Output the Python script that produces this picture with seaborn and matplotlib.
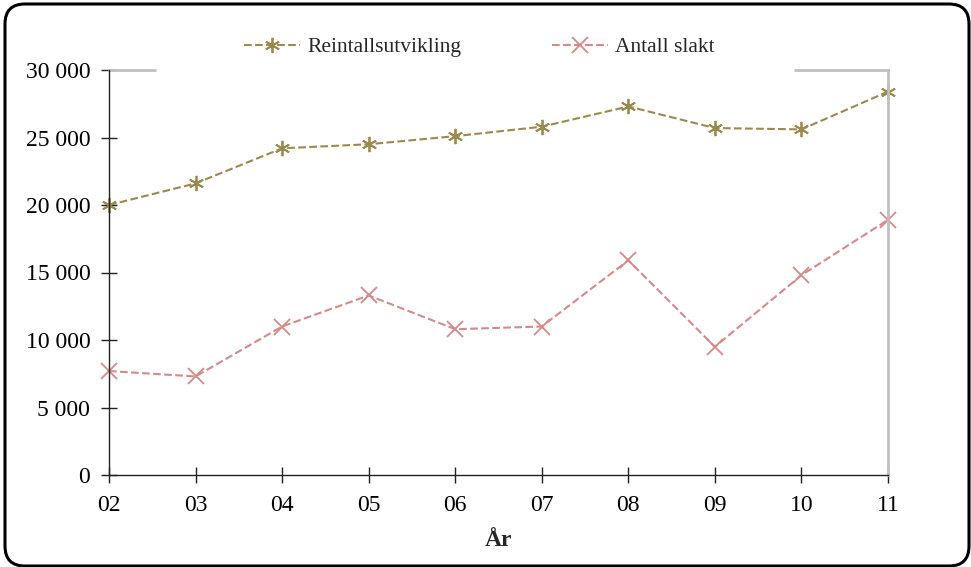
import seaborn as sns
import matplotlib.pyplot as plt
import matplotlib.ticker as mticker
from matplotlib.patches import FancyBboxPatch
import pandas as pd

years = ['02', '03', '04', '05', '06', '07', '08', '09', '10', '11']
reintall = [20000, 21600, 24200, 24500, 25100, 25800, 27300, 25700, 25600, 28400]
slakt = [7700, 7300, 11000, 13300, 10800, 11000, 15900, 9500, 14800, 18900]

olive = '#9a8a4e'
pink = '#d48a8a'

sns.set_style('white')
plt.rcParams['font.family'] = ['Liberation Serif', 'DejaVu Serif']

df = pd.DataFrame({'pos': range(len(years)), 'Reintallsutvikling': reintall, 'Antall slakt': slakt})

fig = plt.figure(figsize=(9.71, 5.67), dpi=100)
ax = fig.add_axes([109 / 971, 1 - 475 / 567, 779 / 971, 405 / 567])

sns.lineplot(data=df, x='pos', y='Reintallsutvikling', ax=ax, color=olive, linestyle='--',
             linewidth=1.5, marker=(6, 2, 0), markersize=11, markeredgewidth=1.3,
             markeredgecolor=olive, label='Reintallsutvikling', clip_on=False)
sns.lineplot(data=df, x='pos', y='Antall slakt', ax=ax, color=pink, linestyle='--',
             linewidth=1.5, marker='x', markersize=11, markeredgewidth=1.3,
             markeredgecolor=pink, label='Antall slakt', clip_on=False)

ax.set_xlim(0, len(years) - 1)
ax.set_ylim(0, 30000)
ax.set_xticks(range(len(years)))
ax.set_xticklabels(years)
ax.set_yticks(range(0, 30001, 5000))
ax.yaxis.set_major_formatter(mticker.FuncFormatter(lambda v, p: f'{int(v):,}'.replace(',', ' ')))
ax.tick_params(axis='both', direction='inout', length=11, width=1, colors='#222222',
               labelsize=17, labelcolor='black', left=True, bottom=True)
ax.tick_params(axis='y', pad=8)
ax.tick_params(axis='x', pad=9)

for side in ['left', 'bottom']:
    ax.spines[side].set_color('#222222')
    ax.spines[side].set_linewidth(1)
ax.spines['top'].set_visible(False)
ax.spines['right'].set_color('#c0c0c0')
ax.spines['right'].set_linewidth(2)
# top frame is partly hidden behind the legend
ax.axhline(30000, xmin=0, xmax=0.059, color='#c0c0c0', linewidth=2, clip_on=False, zorder=1)
ax.axhline(30000, xmin=0.881, xmax=1, color='#c0c0c0', linewidth=2, clip_on=False, zorder=1)

ax.set_xlabel('År', fontsize=17, fontweight='bold', labelpad=10)
ax.set_ylabel('')

ax.legend(loc='lower center', bbox_to_anchor=(0.4756, 1.0), ncol=2, frameon=False,
          fontsize=15.5, handlelength=2.6, handletextpad=0.35, columnspacing=4.2,
          borderaxespad=0.2)

# rounded outer frame, in inches
frame = FancyBboxPatch((0.05, 0.01), 9.64, 5.62,
                       boxstyle='round,pad=0,rounding_size=0.2',
                       transform=fig.dpi_scale_trans, fill=False, edgecolor='black', linewidth=2.2)
fig.patches.append(frame)

plt.savefig('out.png', dpi=100)
